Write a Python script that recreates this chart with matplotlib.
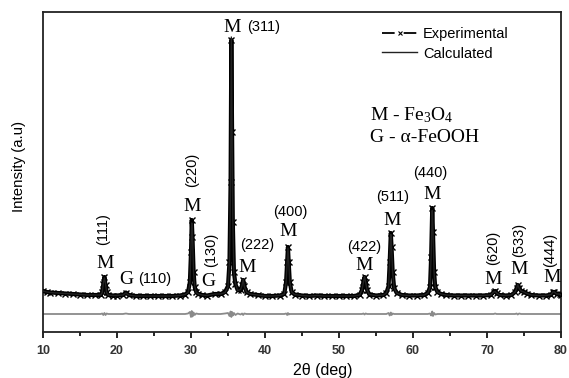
import matplotlib
matplotlib.use("Agg")
import matplotlib.pyplot as plt
import numpy as np
from matplotlib.lines import Line2D

# ---------------- data ----------------
two_theta = [10.0, 10.5, 11.0, 12.0, 13.0, 14.0, 15.0, 16.0, 17.0, 17.8, 18.0, 18.15, 18.3, 18.45, 18.6, 18.8,
             19.5, 20.0, 20.8, 21.2, 21.6, 22.5, 23.5, 24.5, 25.5, 26.5, 27.5, 28.5, 29.2, 29.6, 29.85, 30.0,
             30.1, 30.2, 30.35, 30.5, 30.7, 31.0, 31.5, 32.2, 33.2, 34.0, 34.6, 35.0, 35.2, 35.35, 35.45, 35.55,
             35.65, 35.8, 36.0, 36.3, 36.7, 36.9, 37.05, 37.2, 37.5, 38.0, 39.0, 40.0, 41.0, 42.0, 42.6, 42.85,
             43.0, 43.1, 43.2, 43.35, 43.6, 44.0, 45.0, 46.0, 47.0, 48.0, 49.0, 50.0, 51.0, 52.0, 52.8, 53.1,
             53.3, 53.45, 53.6, 53.8, 54.1, 55.0, 56.0, 56.4, 56.7, 56.85, 57.0, 57.1, 57.25, 57.45, 57.8, 58.5,
             59.5, 60.5, 61.5, 62.0, 62.3, 62.45, 62.6, 62.7, 62.85, 63.0, 63.3, 63.8, 64.5, 65.5, 66.5, 67.5,
             68.5, 69.5, 70.5, 70.9, 71.1, 71.3, 71.7, 72.5, 73.3, 73.8, 74.0, 74.15, 74.35, 74.6, 75.0, 75.4,
             76.0, 77.0, 78.0, 78.7, 78.9, 79.1, 79.4, 79.8, 80.0]
experimental = [41, 40, 39.5, 39, 38.5, 38, 37.5, 37, 37, 37, 40, 48, 55, 47, 40, 37,
                36.5, 36.5, 37, 39.5, 37, 36, 36, 36, 36, 36, 36, 36.5, 37.5, 40, 50, 80,
                112, 95, 60, 45, 40, 38, 37, 36.5, 38, 38, 40, 46, 70, 150, 292, 200,
                110, 60, 48, 42, 42, 47, 52, 46, 40, 38, 37, 36, 36, 36.5, 38, 50,
                70, 85, 70, 50, 40, 37.5, 36.5, 36, 36.5, 36, 36, 36, 36, 36, 37, 42,
                50, 55, 50, 42, 37.5, 36.5, 37, 39, 46, 70, 99, 85, 60, 44, 39, 37,
                36.5, 36.5, 37, 39, 45, 75, 124, 100, 60, 45, 40, 38, 37, 36.5, 36.5, 36.5,
                36.5, 36.5, 37, 40, 41, 39, 37, 36.5, 37, 40, 44, 47, 44, 41, 40, 38.5,
                37, 36.5, 36.5, 37.5, 40, 40, 38, 38, 37]
difference = [0, 0, 0, 0, 0, 0, 0, 0, 0, 0, 0.5, -1, 1, -1, 0.5, 0,
              0, 0, 0, 0.5, 0, 0, 0, 0, 0, 0, 0, 0, 0, 0.5, 2, -3,
              3, -2.5, 1.5, -1, 0.5, 0, 0, 0, 0, 0, 0.5, 1, -2, 2.5, -3, 2,
              -1.5, 1, -1, 0.5, -0.5, 0.5, -1, 0.5, 0, 0, 0, 0, 0, 0, 0, 0.5,
              -1, 1, -0.5, 0, 0, 0, 0, 0, 0, 0, 0, 0, 0, 0, 0, 0,
              0.5, -0.5, 0.5, 0, 0, 0, 0, 0, 1, -1.5, 1.5, -1, 0.5, 0, 0, 0,
              0, 0, 0, 0, 0.5, -1.5, 2.5, -2, 1, -0.5, 0, 0, 0, 0, 0, 0,
              0, 0, 0, 0, 0.5, 0, 0, 0, 0, 0, 0.5, -0.5, 0.5, 0, 0, 0,
              0, 0, 0, 0, 0, 0, 0, 0, 0]
diff_offset = 18

peak_letters = ["M", "G", "M", "G", "M", "M", "M", "M", "M", "M", "M", "M", "M"]
peak_hkl = ["(111)", "(110)", "(220)", "(130)", "(311)", "(222)", "(400)", "(422)", "(511)", "(440)",
            "(620)", "(533)", "(444)"]
x_ticks = [10, 20, 30, 40, 50, 60, 70, 80]

# ---------------- layout constants ----------------
letter_xy = [(18.4, 69), (21.2, 52), (30.1, 125), (32.3, 50), (35.5, 305), (37.6, 65), (43.1, 100),
             (53.4, 67), (57.2, 111), (62.6, 137), (70.8, 52), (74.3, 63), (78.8, 55)]
hkl_xy = [(18.1, 103), (25.1, 53), (30.1, 162), (32.7, 82), (39.8, 305), (38.9, 87), (43.4, 120),
          (53.4, 85), (57.2, 135), (62.3, 159), (70.8, 84), (74.3, 92), (78.5, 82)]
hkl_rot = [True, False, True, True, False, False, False, False, False, False, True, True, True]

fig = plt.figure(figsize=(5.69, 3.78), dpi=100)
ax = fig.add_axes([43/569, 1-332/378, (561-43)/569, (332-12)/378])

tt = np.array(two_theta)
exp_ = np.array(experimental)
dif = np.array(difference)
calc = exp_ - dif

ax.plot(tt, exp_, color="black", lw=3.0, marker="x", ms=4.5, mew=1.0, zorder=3)
ax.plot(tt, calc, color="#222222", lw=1.0, zorder=4)
ax.plot(tt, dif + diff_offset, color="#8a8a8a", lw=1.3, zorder=2)

h1 = Line2D([], [], color="black", lw=1.3, ls=(0, (7, 5)), marker="x", ms=3.5, mew=0.8)
h2 = Line2D([], [], color="#222222", lw=1.0)
leg = ax.legend([h1, h2], ["Experimental", "Calculated"], loc="upper left",
                bbox_to_anchor=(382/569, 1-27/378), bbox_transform=fig.transFigure,
                frameon=False, handlelength=2.4, handletextpad=0.4,
                labelspacing=0.38, borderpad=0, borderaxespad=0,
                prop={"family": "Liberation Sans", "size": 10.5})

for let, hkl, lxy, hxy, rot in zip(peak_letters, peak_hkl, letter_xy, hkl_xy, hkl_rot):
    ax.text(lxy[0], lxy[1], let, family="Liberation Serif", fontsize=14, ha="center", va="center")
    ax.text(hxy[0], hxy[1], hkl, family="Liberation Sans", fontsize=10.5, ha="center", va="center",
            rotation=90 if rot else 0)

ax.text(54.2, 217, r"M - Fe$\mathregular{_3}$O$\mathregular{_4}$", family="Liberation Serif",
        fontsize=14, ha="left", va="center")
ax.text(54.2, 194, "G - α-FeOOH", family="Liberation Serif", fontsize=14, ha="left", va="center")

ax.set_xlim(10, 80)
ax.set_ylim(0, 320)
ax.set_xticks(x_ticks)
ax.set_xticks([15, 25, 35, 45, 55, 65, 75], minor=True)
ax.set_xticklabels([str(t) for t in x_ticks], family="Liberation Sans", fontsize=9, fontweight="bold",
                   color="#333333")
ax.tick_params(axis="x", which="major", direction="out", length=4, width=1.2, pad=5)
ax.tick_params(axis="x", which="minor", direction="out", length=3, width=1.2)
ax.set_yticks([])
for s in ax.spines.values():
    s.set_linewidth(1.3)
    s.set_color("#222222")

fig.text(323/569, 1-371/378, "2θ (deg)", family="Liberation Sans", fontsize=11.5, ha="center", va="center")
fig.text(19/569, 1-166/378, "Intensity (a.u)", family="Liberation Sans", fontsize=10.8, ha="center",
         va="center", rotation=90)

fig.savefig("out.png", dpi=100)
